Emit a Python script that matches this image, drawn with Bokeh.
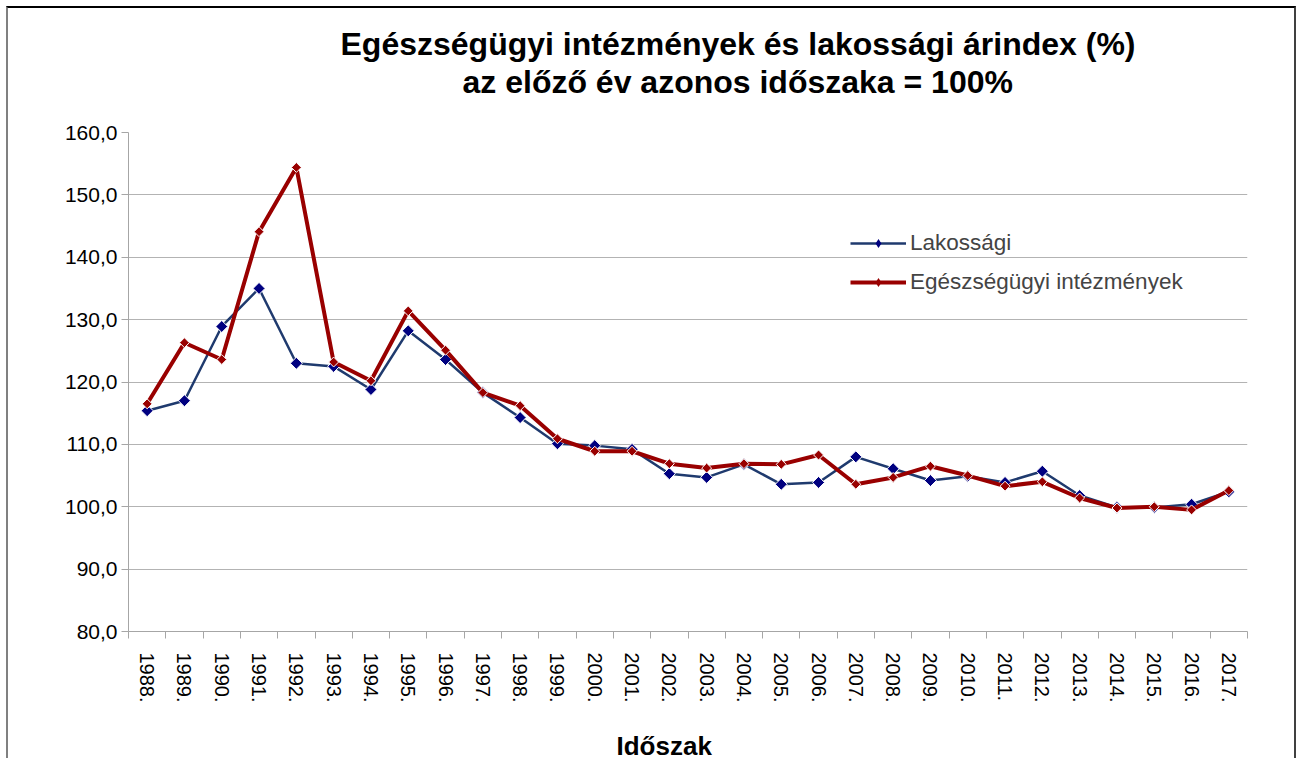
import math
from bokeh.plotting import figure
from bokeh.models import (Range1d, FixedTicker, Legend, LegendItem, Title)
from bokeh.embed import file_html
from bokeh.resources import INLINE

years = [str(y) + "." for y in range(1988, 2018)]
lakossagi = [115.4, 117.0, 128.9, 135.0, 123.0, 122.5, 118.8, 128.2, 123.6, 118.3,
             114.3, 110.1, 109.8, 109.2, 105.3, 104.7, 106.8, 103.6, 103.9, 108.0,
             106.1, 104.2, 104.9, 103.9, 105.7, 101.8, 99.9, 99.9, 100.4, 102.4]
egeszseg = [116.5, 126.3, 123.6, 144.1, 154.4, 123.2, 120.2, 131.4, 125.1, 118.3,
            116.2, 110.9, 108.9, 108.9, 106.9, 106.2, 106.9, 106.8, 108.3, 103.6,
            104.7, 106.5, 105.0, 103.3, 104.0, 101.4, 99.8, 100.0, 99.5, 102.6]
y_ticks = [80, 90, 100, 110, 120, 130, 140, 150, 160]
title_lines = ["Egészségügyi intézmények és lakossági árindex (%)",
               "az előző év azonos időszaka = 100%"]
x_title = "Időszak"
series_names = ["Lakossági", "Egészségügyi intézmények"]

FONT = "Liberation Sans"
xs = list(range(len(years)))

p = figure(width=1290, height=752, output_backend="svg", toolbar_location=None,
           x_range=Range1d(-0.5, len(years) - 0.5), y_range=Range1d(80, 160),
           min_border_left=120, min_border_right=51, min_border_top=124,
           min_border_bottom=120)
p.styles = {"border-top": "2px solid black", "border-left": "2px solid #808080",
            "border-right": "2px solid #404040", "box-sizing": "border-box",
            "margin-left": "6px", "margin-top": "6px"}
p.outline_line_color = None
p.xgrid.grid_line_color = None
p.ygrid.grid_line_color = "#b3b3b3"
p.ygrid.grid_line_width = 1

# x axis
p.xaxis.ticker = FixedTicker(ticks=xs, minor_ticks=[i - 0.5 for i in range(len(years) + 1)])
p.xaxis.major_label_overrides = {i: years[i] for i in xs}
p.xaxis.major_label_orientation = "vertical"
p.xaxis.major_tick_out = 0
p.xaxis.major_tick_in = 0
p.xaxis.minor_tick_out = 7
p.xaxis.minor_tick_in = 0
p.xaxis.minor_tick_line_color = "#a6a6a6"
p.xaxis.axis_line_color = "#a6a6a6"
p.xaxis.major_label_text_font = FONT
p.xaxis.major_label_text_font_size = "20px"
p.xaxis.major_label_text_color = "black"
p.xaxis.major_label_standoff = 14

# y axis
p.yaxis.ticker = FixedTicker(ticks=y_ticks)
p.yaxis.major_label_overrides = {v: f"{v:.1f}".replace(".", ",") for v in y_ticks}
p.yaxis.major_tick_out = 7
p.yaxis.major_tick_in = 0
p.yaxis.minor_tick_line_color = None
p.yaxis.major_tick_line_color = "#a6a6a6"
p.yaxis.axis_line_color = "#a6a6a6"
p.yaxis.major_label_text_font = FONT
p.yaxis.major_label_text_font_size = "21px"
p.yaxis.major_label_text_color = "black"
p.yaxis.major_label_standoff = 4

blue_line = "#1f3a6e"
blue_mark = "#000080"
red = "#990000"

bl = p.line(xs, lakossagi, line_color=blue_line, line_width=2.5)
bd = p.scatter(xs, lakossagi, marker="diamond", size=10, fill_color=blue_mark, line_color=None)
p.scatter(xs, lakossagi, marker="square", angle=math.pi / 4, size=8.5,
          fill_color=blue_mark, line_color="white", line_width=1)
rl = p.line(xs, egeszseg, line_color=red, line_width=4)
rd = p.scatter(xs, egeszseg, marker="diamond", size=10, fill_color=red, line_color=None)
p.scatter(xs, egeszseg, marker="square", angle=math.pi / 4, size=7,
          fill_color=red, line_color="white", line_width=1)

legend = Legend(items=[LegendItem(label=series_names[0], renderers=[bl, bd]),
                       LegendItem(label=series_names[1], renderers=[rl, rd])],
                location=(722, 336), orientation="vertical")
legend.label_text_font = FONT
legend.label_text_font_size = "22.5px"
legend.glyph_width = 56
legend.glyph_height = 22
legend.label_height = 22
legend.spacing = 13
legend.padding = 0
legend.margin = 0
legend.label_standoff = 4
legend.border_line_color = None
legend.background_fill_alpha = 0
p.add_layout(legend, "center")

# title: spacer nearest frame, then second line, then first line
spacer = Title(text=" ", text_font_size="1px", standoff=29)
t2 = Title(text=title_lines[1], align="left", offset=334, text_font=FONT,
           text_font_size="32px", text_font_style="bold", text_color="black",
           standoff=1)
t1 = Title(text=title_lines[0], align="left", offset=212, text_font=FONT,
           text_font_size="32px", text_font_style="bold", text_color="black",
           standoff=0)
p.add_layout(spacer, "above")
p.add_layout(t2, "above")
p.add_layout(t1, "above")

# x-axis title: spacer below the axis labels, then the title itself
spacer_b = Title(text=" ", text_font_size="1px", standoff=20)
tx = Title(text=x_title, align="left", offset=488, text_font=FONT,
           text_font_size="26px", text_font_style="bold", text_color="black",
           standoff=0)
p.add_layout(spacer_b, "below")
p.add_layout(tx, "below")

open("out.html", "w").write(file_html(p, INLINE))
